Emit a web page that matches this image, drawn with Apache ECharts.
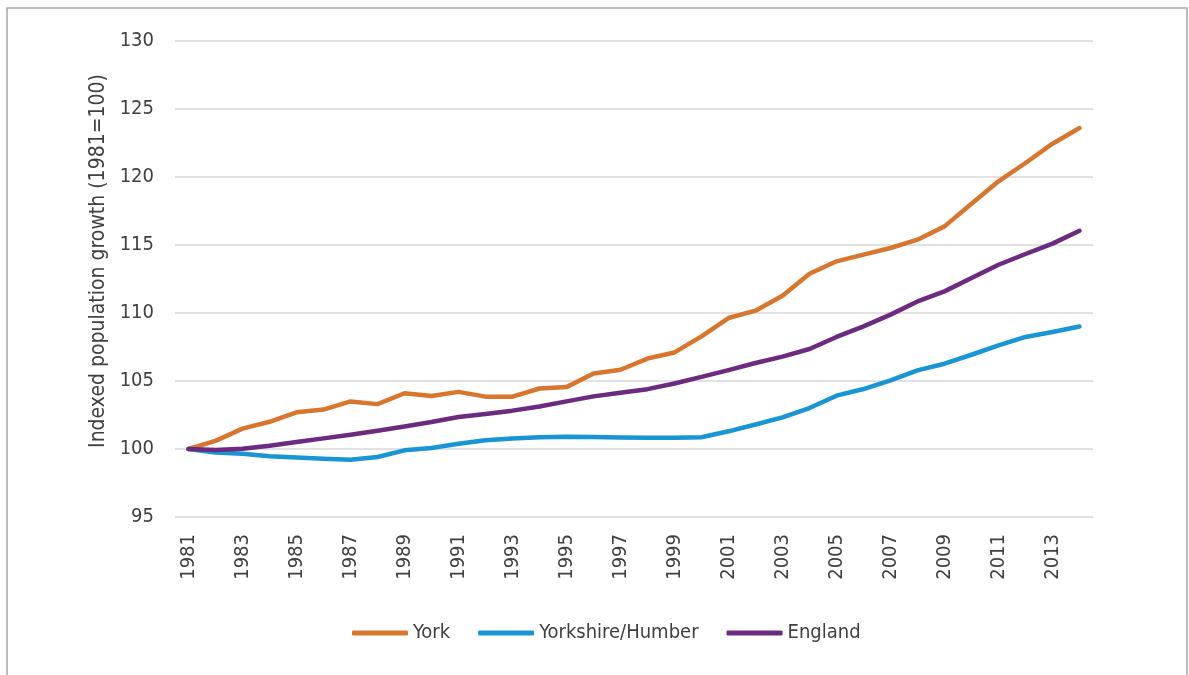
<!DOCTYPE html>
<html>
<head>
<meta charset="utf-8">
<title>Indexed population growth</title>
<script src="https://cdn.jsdelivr.net/npm/echarts@6/dist/echarts.min.js"></script>
<style>
    html, body { margin: 0; padding: 0; background: #fff; }
    #main { width: 1189px; height: 675px; }
</style>
</head>
<body>
<div id="main"></div>
<script>
// 年份
const years = ['1981', '1982', '1983', '1984', '1985', '1986', '1987', '1988', '1989', '1990',
    '1991', '1992', '1993', '1994', '1995', '1996', '1997', '1998', '1999', '2000',
    '2001', '2002', '2003', '2004', '2005', '2006', '2007', '2008', '2009', '2010',
    '2011', '2012', '2013', '2014']

// 指数 (1981=100)
const york = [100, 100.6, 101.5, 102.0, 102.7, 102.9, 103.5, 103.3, 104.1, 103.9,
    104.2, 103.85, 103.85, 104.45, 104.55, 105.55, 105.83, 106.65, 107.1, 108.28,
    109.63, 110.17, 111.27, 112.89, 113.8, 114.29, 114.78, 115.39, 116.37, 118.04,
    119.68, 121.03, 122.45, 123.6]
const yorkshire = [100, 99.75, 99.65, 99.46, 99.38, 99.29, 99.21, 99.41, 99.9, 100.07,
    100.39, 100.65, 100.78, 100.87, 100.9, 100.88, 100.85, 100.83, 100.83, 100.86,
    101.3, 101.8, 102.33, 103.01, 103.92, 104.41, 105.04, 105.78, 106.27, 106.93,
    107.62, 108.24, 108.6, 109.01]
const england = [100, 99.92, 100.02, 100.24, 100.51, 100.78, 101.05, 101.34, 101.66, 101.98,
    102.35, 102.58, 102.82, 103.13, 103.5, 103.87, 104.14, 104.4, 104.82, 105.3,
    105.8, 106.32, 106.79, 107.35, 108.24, 109.02, 109.88, 110.85, 111.59, 112.57,
    113.55, 114.34, 115.1, 116.05]

const seriesNames = ['York', 'Yorkshire/Humber', 'England']
const colors = ['#d8762d', '#1895d3', '#6c2a80']

const font = "'Liberation Sans Narrow', 'Arial Narrow', 'DejaVu Sans Condensed', sans-serif"
const textColor = '#404040'

const chart = echarts.init(document.getElementById('main'), null, { renderer: 'canvas' })

function lineSeries(name, data, color) {
    return {
        name: name,
        type: 'line',
        data: data,
        symbol: 'none',
        smooth: false,
        lineStyle: { color: color, width: 4.5, cap: 'round', join: 'round' },
        itemStyle: { color: color }
    }
}

chart.setOption({
    animation: false,
    textStyle: { fontFamily: font },
    // 外框
    graphic: [{
        type: 'rect',
        shape: { x: 7, y: 8, width: 1180, height: 700 },
        style: { fill: 'none', stroke: '#a6a6a6', lineWidth: 1.5 },
        silent: true
    }],
    grid: { left: 175, right: 96, top: 41, bottom: 158 },
    legend: {
        data: seriesNames,
        left: 347,
        top: 618,
        icon: 'roundRect',
        itemWidth: 56,
        itemHeight: 5,
        itemGap: 28,
        textStyle: { fontFamily: font, fontSize: 20, color: textColor }
    },
    xAxis: {
        type: 'category',
        data: years,
        boundaryGap: true,
        axisLine: { show: false },
        axisTick: { show: false },
        axisLabel: {
            interval: 1,
            rotate: 90,
            margin: 17,
            fontFamily: font,
            fontSize: 20,
            color: textColor
        }
    },
    yAxis: {
        type: 'value',
        min: 95,
        max: 130,
        interval: 5,
        name: 'Indexed population growth (1981=100)',
        nameLocation: 'middle',
        nameGap: 60,
        nameRotate: 90,
        nameTextStyle: { fontFamily: font, fontSize: 21, color: textColor, padding: [0, 0, 0, 36] },
        axisLine: { show: false },
        axisTick: { show: false },
        axisLabel: { margin: 21, fontFamily: font, fontSize: 20, color: textColor },
        splitLine: { lineStyle: { color: '#d9d9d9', width: 1.5 } }
    },
    series: [
        lineSeries(seriesNames[0], york, colors[0]),
        lineSeries(seriesNames[1], yorkshire, colors[1]),
        lineSeries(seriesNames[2], england, colors[2])
    ]
})
</script>
</body>
</html>
